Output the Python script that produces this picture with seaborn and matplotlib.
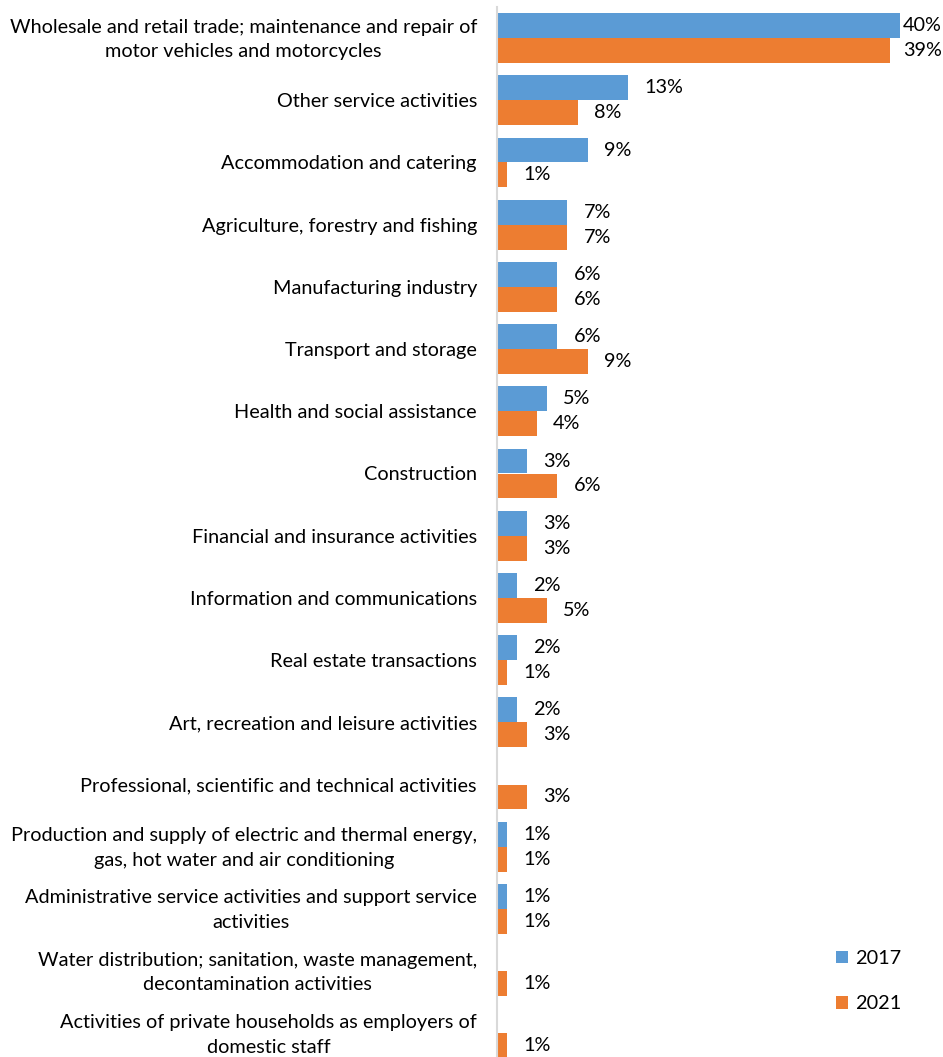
import numpy as np
import pandas as pd
import matplotlib
matplotlib.use("Agg")
import matplotlib.pyplot as plt
import matplotlib.transforms as mtransforms
import seaborn as sns

categories = [
    "Wholesale and retail trade; maintenance and repair of\nmotor vehicles and motorcycles",
    "Other service activities",
    "Accommodation and catering",
    "Agriculture, forestry and fishing",
    "Manufacturing industry",
    "Transport and storage",
    "Health and social assistance",
    "Construction",
    "Financial and insurance activities",
    "Information and communications",
    "Real estate transactions",
    "Art, recreation and leisure activities",
    "Professional, scientific and technical activities",
    "Production and supply of electric and thermal energy,\ngas, hot water and air conditioning",
    "Administrative service activities and support service\nactivities",
    "Water distribution; sanitation, waste management,\ndecontamination activities",
    "Activities of private households as employers of\ndomestic staff",
]
share_2017 = [40, 13, 9, 7, 6, 6, 5, 3, 3, 2, 2, 2, np.nan, 1, 1, np.nan, np.nan]
share_2021 = [39, 8, 1, 7, 6, 9, 4, 6, 3, 5, 1, 3, 3, 1, 1, 1, 1]
years = ["2017", "2021"]
colors = ["#5B9BD5", "#ED7D31"]

df = pd.DataFrame({
    "Sector": categories * 2,
    "Year": [years[0]] * len(categories) + [years[1]] * len(categories),
    "Share": share_2017 + share_2021,
})

sns.set_theme(style="white")
plt.rcParams["font.family"] = ["Lato", "DejaVu Sans"]
plt.rcParams["text.color"] = "#000000"

FS = 14.3
W, H, DPI = 943, 1057, 100
fig = plt.figure(figsize=(W / DPI, H / DPI), dpi=DPI)
ax_left, ax_top, ax_bottom = 497, 7, 1057
ax = fig.add_axes([ax_left / W, 1 - ax_bottom / H, (W - ax_left) / W, (ax_bottom - ax_top) / H])

sns.barplot(data=df, y="Sector", x="Share", hue="Year", order=categories,
            hue_order=years, palette=colors, orient="h", width=0.8,
            saturation=1, ax=ax, legend=True, linewidth=0)

px_per_unit = 10.07
ax.set_xlim(0, (W - ax_left) / px_per_unit)
band = 62.2
ax.set_ylim(-0.5 + (ax_bottom - ax_top) / band, -0.5)

for s in ["top", "right", "bottom"]:
    ax.spines[s].set_visible(False)
ax.spines["left"].set_color("#D9D9D9")
ax.spines["left"].set_linewidth(1.5)
ax.set_xticks([])
ax.set_xlabel("")
ax.set_ylabel("")
ax.set_yticks(range(len(categories)), categories, multialignment="center",
              linespacing=1.56, color="#000000", fontsize=FS)
ax.tick_params(axis="y", length=0, pad=14.4)

# two-line labels: nudge up so the pair of lines sits centred on the bars
lift = mtransforms.ScaledTranslation(0, 4 / DPI, fig.dpi_scale_trans)
for lbl in ax.get_yticklabels():
    if "\n" in lbl.get_text():
        lbl.set_transform(lbl.get_transform() + lift)

labels = []
for cont in ax.containers:
    labels += ax.bar_label(cont, fmt="%g%%", padding=11.5, fontsize=FS, color="#000000")

# keep value labels inside the figure
fig.canvas.draw()
renderer = fig.canvas.get_renderer()
for t in labels:
    bb = t.get_window_extent(renderer)
    if bb.x1 > W - 1:
        shift = (bb.x1 - (W - 1)) * 72 / DPI
        x0, y0 = t.xyann
        t.xyann = (x0 - shift, y0)

leg = ax.legend(loc="upper left", bbox_to_anchor=(836 / W, 1 - 950 / H),
                bbox_transform=fig.transFigure, frameon=False, fontsize=FS,
                handlelength=0.62, handleheight=0.62, handletextpad=0.35,
                labelspacing=1.42, borderpad=0, borderaxespad=0)

fig.savefig("out.png", dpi=DPI)
